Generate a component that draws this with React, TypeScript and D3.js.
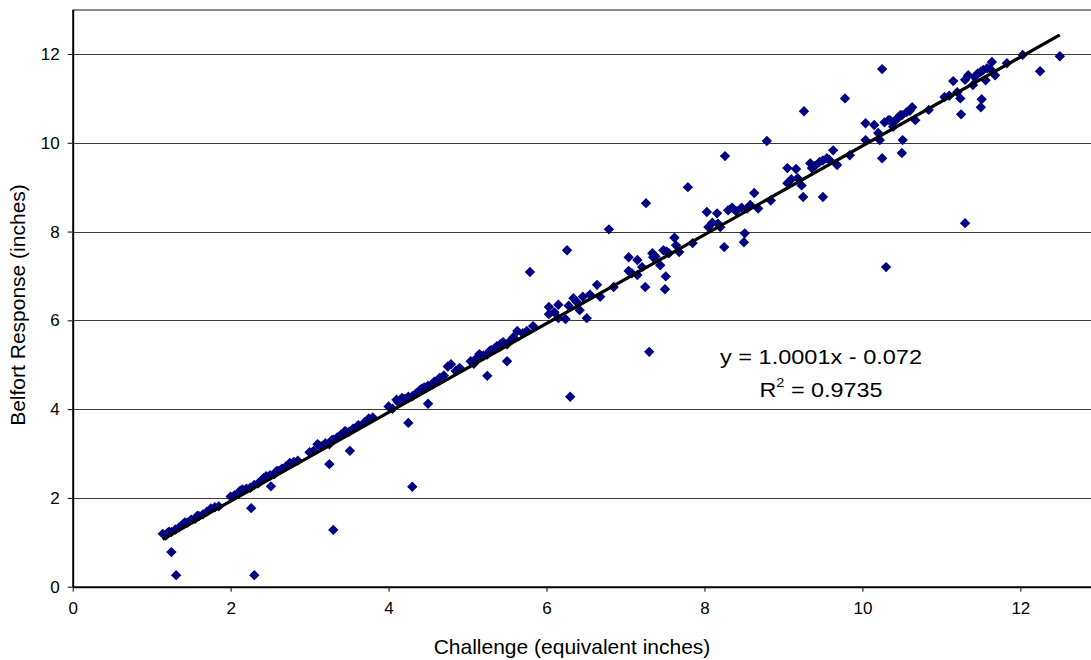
import { useEffect, useRef } from 'react';
import * as d3 from 'd3';

const width = 1091;
const height = 660;
const margin = { top: 9.6, left: 72.7, bottom: 586.7 };
const navy = "#000080";

// challenge (x) vs belfort response (y)
const challenge = [
  1.14, 1.18, 1.2, 1.25, 1.3, 1.35, 1.4, 1.45, 1.5, 1.55, 1.6, 1.65, 1.7, 1.75, 1.8, 1.85,
  2.0, 2.05, 2.15, 2.2, 2.25, 2.3, 2.35, 2.4, 2.45, 2.5, 2.55, 2.6, 2.65, 2.7, 2.75, 2.8,
  3.0, 3.05, 3.1, 3.15, 3.2, 3.25, 3.3, 3.35, 3.4, 3.45, 3.5, 3.55, 3.6, 3.7, 3.75, 3.8,
  4.0, 4.05, 4.1, 4.17, 4.2, 4.3, 4.35, 4.4, 4.45, 4.5, 4.55, 4.6, 4.65, 4.7, 4.75, 4.79,
  4.85, 5.04, 5.08, 5.15, 5.2, 5.25, 5.3, 5.37, 5.4, 5.45, 5.5, 5.55, 5.63, 5.7, 5.75, 5.83,
  6.03, 6.03, 6.15, 6.24, 6.15, 6.34, 6.46, 6.42, 6.64, 6.68, 6.85, 7.04, 7.04, 7.15, 7.21,
  7.15, 7.34, 7.35, 7.48, 7.44, 7.55, 7.62, 7.64, 7.68, 7.85, 8.03, 8.16, 8.05, 8.2, 8.3,
  8.17, 8.35, 8.47, 8.54, 8.63, 8.68, 8.84, 9.05, 9.16, 9.05, 9.18, 9.23, 9.34, 9.36, 9.46,
  9.55, 9.63, 9.68, 9.84, 10.04, 10.04, 10.15, 10.2, 10.22, 10.33, 10.39, 10.44, 10.5, 10.56,
  10.63, 10.67, 10.51, 10.35, 10.48, 10.84, 11.04, 11.2, 11.24, 11.34, 11.4, 11.46, 11.53,
  11.58, 11.64, 11.56, 11.68, 11.83, 12.03, 12.5,
  // extra points in the dense clusters
  1.22, 1.42, 1.58, 2.12, 2.42, 2.58, 2.85, 3.12, 3.28, 3.42, 3.62, 4.12, 4.25, 4.42, 4.58,
  4.9, 5.12, 5.28, 5.42, 5.58, 6.1, 6.28, 6.38, 6.55, 7.08, 7.38, 7.52, 8.1, 8.4, 8.58,
  9.1, 9.4, 9.5, 9.58, 10.28, 10.42, 10.6, 11.1, 11.3, 11.42, 11.5, 11.62,
  // off-line points
  1.25, 1.31, 2.26, 2.3, 2.51, 3.25, 3.3, 3.51, 4.25, 4.3, 4.5, 5.25, 5.5, 6.3, 7.3, 5.79,
  6.26, 6.79, 7.26, 6.51, 7.5, 7.25, 7.51, 8.25, 7.79, 8.26, 8.79, 9.26, 9.78, 10.25, 10.3,
  9.5, 9.25, 10.25, 10.5, 8.5, 8.51, 11.3, 12.25, 11.25, 11.5, 11.51, 11.15,
];
const response = [
  1.19, 1.15, 1.21, 1.23, 1.29, 1.34, 1.41, 1.44, 1.51, 1.53, 1.59, 1.63, 1.69, 1.76, 1.79, 1.81,
  2.03, 2.06, 2.19, 2.21, 2.23, 2.29, 2.33, 2.41, 2.49, 2.51, 2.53, 2.61, 2.66, 2.71, 2.79, 2.81,
  3.03, 3.06, 3.21, 3.16, 3.23, 3.21, 3.31, 3.36, 3.43, 3.51, 3.49, 3.56, 3.61, 3.71, 3.79, 3.81,
  4.06, 4.01, 4.21, 4.25, 4.23, 4.29, 4.36, 4.43, 4.49, 4.53, 4.56, 4.61, 4.71, 4.76, 4.96, 5.01,
  4.86, 5.08, 5.02, 5.24, 5.21, 5.23, 5.33, 5.42, 5.39, 5.51, 5.46, 5.55, 5.76, 5.71, 5.76, 5.87,
  6.3, 6.14, 6.35, 6.03, 6.05, 6.5, 6.53, 6.23, 6.8, 6.53, 6.75, 7.42, 7.11, 7.36, 7.2,
  7.02, 7.51, 7.42, 7.58, 7.24, 7.51, 7.86, 7.69, 7.54, 7.74, 8.44, 8.41, 8.1, 8.1, 8.48,
  8.18, 8.54, 8.54, 8.52, 8.87, 8.52, 8.7, 9.43, 9.41, 9.09, 9.2, 9.04, 9.54, 9.43, 9.57,
  9.65, 9.83, 9.5, 9.72, 10.44, 10.06, 10.4, 10.22, 10.06, 10.51, 10.36, 10.55, 10.62, 10.69,
  10.8, 10.51, 10.06, 10.51, 10.62, 10.74, 11.03, 11.14, 11.0, 11.52, 11.3, 11.56, 11.64,
  11.68, 11.82, 11.41, 11.52, 11.79, 11.98, 11.95,
  1.24, 1.45, 1.6, 2.16, 2.45, 2.6, 2.84, 3.18, 3.3, 3.44, 3.64, 4.16, 4.28, 4.46, 4.62,
  4.93, 5.16, 5.31, 5.47, 5.62, 6.18, 6.33, 6.42, 6.58, 7.06, 7.44, 7.55, 8.2, 8.46, 8.6,
  9.18, 9.48, 9.6, 9.62, 10.46, 10.5, 10.72, 11.06, 11.42, 11.48, 11.6, 11.66,
  0.78, 0.26, 1.77, 0.26, 2.26, 2.76, 1.28, 3.06, 3.69, 2.25, 4.12, 4.75, 5.08, 4.28, 5.29, 7.09,
  7.58, 8.05, 8.64, 6.05, 6.7, 6.75, 6.99, 7.65, 9.0, 9.7, 10.04, 10.71, 11.0, 11.66, 7.2,
  8.78, 8.78, 9.65, 9.77, 7.76, 7.96, 8.19, 11.61, 10.64, 10.8, 10.98, 11.39,
];
const xTicks = [0, 2, 4, 6, 8, 10, 12];
const yTicks = [0, 2, 4, 6, 8, 10, 12];
const slope = 1.0001;
const intercept = -0.072;

export default function App() {
  const ref = useRef<SVGSVGElement>(null);

  useEffect(() => {
    const svg = d3.select(ref.current);
    svg.selectAll("*").remove();

    const x = d3.scaleLinear().domain([0, 14]).range([margin.left, margin.left + 14 * 78.97]);
    const y = d3.scaleLinear().domain([0, 13]).range([margin.bottom, margin.top]);
    const font = "'Liberation Sans', Arial, sans-serif";

    // gridlines
    svg.append("g")
      .selectAll("line")
      .data(yTicks.filter(d => d > 0))
      .join("line")
      .attr("x1", margin.left).attr("x2", width)
      .attr("y1", d => Math.round(y(d)) + 0.5).attr("y2", d => Math.round(y(d)) + 0.5)
      .attr("stroke", "#3a3a3a").attr("stroke-width", 1);

    // top border
    svg.append("line")
      .attr("x1", margin.left).attr("x2", width)
      .attr("y1", 10).attr("y2", 10)
      .attr("stroke", "#8c8c8c").attr("stroke-width", 2);

    // axes
    svg.append("g")
      .attr("transform", `translate(0, ${margin.bottom})`)
      .call(d3.axisBottom(x).tickValues(xTicks).tickSize(5).tickPadding(10).tickSizeOuter(0))
      .call(g => g.select(".domain").attr("stroke", "#000").attr("stroke-width", 2))
      .call(g => g.selectAll("text").attr("font-family", font).attr("font-size", 17).attr("fill", "#000"));

    svg.append("g")
      .attr("transform", `translate(${margin.left}, 0)`)
      .call(d3.axisLeft(y).tickValues(yTicks).tickSize(5).tickPadding(8).tickSizeOuter(0))
      .call(g => g.select(".domain").attr("stroke", "#000").attr("stroke-width", 2))
      .call(g => g.selectAll("text").attr("font-family", font).attr("font-size", 17).attr("fill", "#000"));

    // points
    const pts = challenge.map((c, i) => [c, response[i]]);
    const diamond = d3.symbol(d3.symbolSquare, 54);
    svg.append("g")
      .selectAll("path")
      .data(pts)
      .join("path")
      .attr("d", diamond)
      .attr("transform", d => `translate(${x(d[0])}, ${y(d[1])}) rotate(45)`)
      .attr("fill", navy);

    // trend line
    const [x0, x1] = d3.extent(challenge) as [number, number];
    const line = d3.line<number>().x(d => x(d)).y(d => y(slope * d + intercept));
    svg.append("path")
      .attr("d", line([x0, x1]))
      .attr("fill", "none")
      .attr("stroke", "#000")
      .attr("stroke-width", 3.2);

    // equation
    const eq = svg.append("g").attr("font-family", font).attr("font-size", 21).attr("text-anchor", "middle");
    eq.append("text").attr("x", 821).attr("y", 364)
      .attr("textLength", 202).attr("lengthAdjust", "spacingAndGlyphs")
      .text("y = 1.0001x - 0.072");
    const r2 = eq.append("text").attr("x", 821).attr("y", 397)
      .attr("textLength", 123).attr("lengthAdjust", "spacingAndGlyphs");
    r2.append("tspan").text("R");
    r2.append("tspan").attr("font-size", 13).attr("dy", -10).text("2");
    r2.append("tspan").attr("dy", 10).text(" = 0.9735");

    // axis titles
    svg.append("text")
      .attr("x", 572).attr("y", 654)
      .attr("text-anchor", "middle")
      .attr("font-family", font).attr("font-size", 21)
      .text("Challenge (equivalent inches)");
    svg.append("text")
      .attr("transform", "translate(25, 305) rotate(-90)")
      .attr("text-anchor", "middle")
      .attr("font-family", font).attr("font-size", 21)
      .text("Belfort Response (inches)");
  }, []);

  return (
    <svg ref={ref} width={width} height={height}
      style={{ position: "absolute", left: 0, top: 0, background: "#fff" }} />
  );
}
